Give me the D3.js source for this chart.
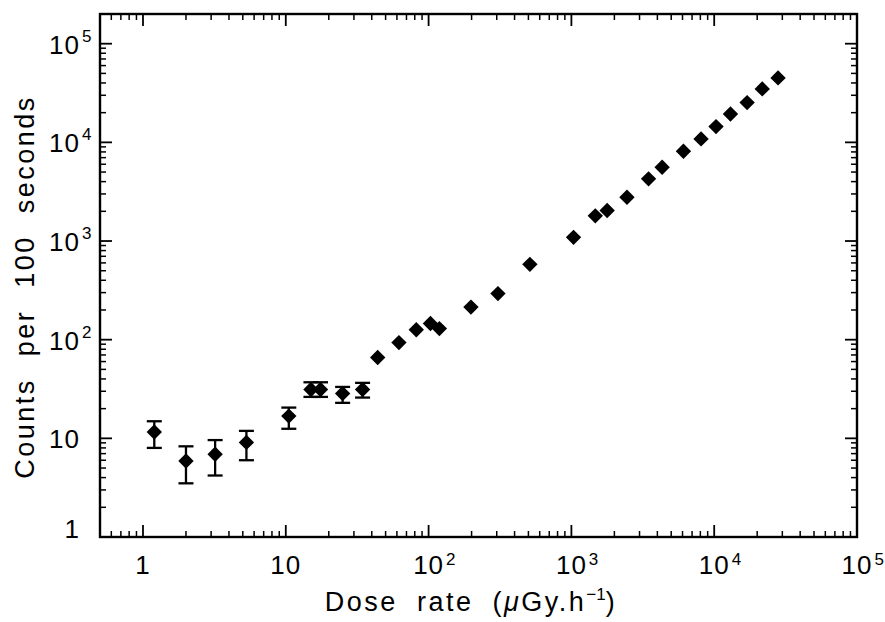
<!DOCTYPE html>
<html>
<head>
<meta charset="utf-8">
<script src="https://cdn.jsdelivr.net/npm/d3@7"></script>
<style>
  body { margin: 0; background: #fff; }
  text { font-family: "Liberation Sans", Arial, sans-serif; fill: #000; }
</style>
</head>
<body>
<svg id="chart" width="885" height="622"></svg>
<script>
// low dose rate points, with error bars
const doseLow   = [1.2, 2.0, 3.2, 5.3, 10.5, 15, 17.5, 25, 34.5];
const countsLow = [11.6, 5.9, 6.9, 9.1, 16.8, 31.3, 31.3, 28.5, 31.3];
const errTop    = [14.9, 8.3, 9.6, 11.9, 20.5, 37, 37, 33.2, 36.5];
const errBottom = [8.0, 3.5, 4.2, 6.0, 12.5, 26.3, 26.3, 22.9, 25.9];

// higher dose rate points (errors smaller than the markers)
const doseHigh   = [44, 62, 82, 103, 119, 198, 306, 512, 1035, 1470, 1780, 2450,
                    3470, 4320, 6090, 8090, 10300, 13000, 17000, 21700, 28000];
const countsHigh = [66, 93.5, 126, 146, 129.5, 214, 293, 580, 1090, 1800, 2040, 2780,
                    4270, 5600, 8130, 10840, 14450, 19400, 25300, 34800, 45000];

// decade tick labels: [base, exponent]
const xTickLabels = [[1, ""], [10, ""], [10, "2"], [10, "3"], [10, "4"], [10, "5"]];
const yTickLabels = [[1, ""], [10, ""], [10, "2"], [10, "3"], [10, "4"], [10, "5"]];

const svg = d3.select("#chart");
const width = 885, height = 622;
const margin = {top: 14, right: 28, bottom: 85, left: 100};

const x = d3.scaleLog()
    .domain([0.5, 1e5])
    .range([margin.left, width - margin.right]);

const y = d3.scaleLog()
    .domain([1, 2e5])
    .range([height - margin.bottom, margin.top]);

const [x0, x1] = x.range();
const [y0, y1] = y.range();

function minors(scale) {
  const [a, b] = scale.domain();
  const out = [];
  for (let e = -1; e <= 5; e++) {
    for (let k = 2; k <= 9; k++) {
      const v = k * Math.pow(10, e);
      if (v > a * 1.0001 && v < b * 0.9999) out.push(v);
    }
  }
  return out;
}
const xMajor = [1, 10, 100, 1e3, 1e4];
const yMajor = [10, 100, 1e3, 1e4, 1e5];

// ticks on all four sides, pointing inward
const axes = svg.append("g").attr("stroke", "#000");
function tickSet(vals, len, sw) {
  vals.forEach(v => {
    const px = x(v);
    axes.append("line").attr("x1", px).attr("x2", px).attr("y1", y0).attr("y2", y0 - len).attr("stroke-width", sw);
    axes.append("line").attr("x1", px).attr("x2", px).attr("y1", y1).attr("y2", y1 + len).attr("stroke-width", sw);
  });
}
function tickSetY(vals, len, sw) {
  vals.forEach(v => {
    const py = y(v);
    axes.append("line").attr("y1", py).attr("y2", py).attr("x1", x0).attr("x2", x0 + len).attr("stroke-width", sw);
    axes.append("line").attr("y1", py).attr("y2", py).attr("x1", x1).attr("x2", x1 - len).attr("stroke-width", sw);
  });
}
tickSet(xMajor, 12, 1.8);
tickSet(minors(x), 6, 1.5);
tickSetY(yMajor, 12, 1.8);
tickSetY(minors(y), 6, 1.5);

axes.append("rect")
    .attr("x", x0).attr("y", y1)
    .attr("width", x1 - x0).attr("height", y0 - y1)
    .attr("fill", "none")
    .attr("stroke-width", 2.4);

// x tick labels
xTickLabels.forEach(([b, e], i) => {
  const px = x(Math.pow(10, i));
  const t = svg.append("text")
      .attr("x", px).attr("y", 574)
      .attr("text-anchor", "middle")
      .attr("font-size", 26)
      .attr("letter-spacing", 1)
      .text(b);
  if (e) {
    const w = t.node().getComputedTextLength();
    svg.append("text")
        .attr("x", px + w / 2 + 2).attr("y", 565)
        .attr("font-size", 17)
        .text(e);
  }
});

// y tick labels
yTickLabels.forEach(([b, e], i) => {
  const py = y(Math.pow(10, i));
  svg.append("text")
      .attr("x", 80).attr("y", i === 0 ? py + 1 : py + 10)
      .attr("text-anchor", "end")
      .attr("font-size", 26)
      .attr("letter-spacing", 1)
      .text(b);
  if (e) {
    svg.append("text")
        .attr("x", 82).attr("y", py - 2)
        .attr("font-size", 17)
        .text(e);
  }
});

// axis titles
svg.append("text")
    .attr("transform", "translate(34,287) rotate(-90)")
    .attr("text-anchor", "middle")
    .attr("font-size", 27)
    .attr("letter-spacing", 2.5)
    .attr("word-spacing", 12)
    .text("Counts per 100 seconds");

const xt = svg.append("text")
    .attr("x", 471).attr("y", 611)
    .attr("text-anchor", "middle")
    .attr("font-size", 27)
    .attr("letter-spacing", 2.5)
    .attr("word-spacing", 9);
xt.append("tspan").text("Dose rate (");
xt.append("tspan").attr("font-style", "italic").text("\u03bc");
xt.append("tspan").text("Gy.h");
xt.append("tspan").attr("font-size", 17).attr("dy", -11).attr("letter-spacing", 0).text("\u22121");
xt.append("tspan").attr("dy", 11).text(")");

// error bars
const cap = 7.5;
const eb = svg.append("g").attr("stroke", "#000").attr("stroke-width", 2.3);
doseLow.forEach((d, i) => {
  const px = x(d);
  eb.append("line").attr("x1", px).attr("x2", px).attr("y1", y(errTop[i])).attr("y2", y(errBottom[i]));
  eb.append("line").attr("x1", px - cap).attr("x2", px + cap).attr("y1", y(errTop[i])).attr("y2", y(errTop[i]));
  eb.append("line").attr("x1", px - cap).attr("x2", px + cap).attr("y1", y(errBottom[i])).attr("y2", y(errBottom[i]));
});

// diamond markers
const diamond = d3.symbol(d3.symbolSquare, 118)();
const pts = doseLow.map((d, i) => [d, countsLow[i]])
    .concat(doseHigh.map((d, i) => [d, countsHigh[i]]));
svg.append("g")
  .selectAll("path")
  .data(pts)
  .join("path")
    .attr("d", diamond)
    .attr("transform", d => `translate(${x(d[0])},${y(d[1])}) rotate(45)`)
    .attr("fill", "#000");
</script>
</body>
</html>
